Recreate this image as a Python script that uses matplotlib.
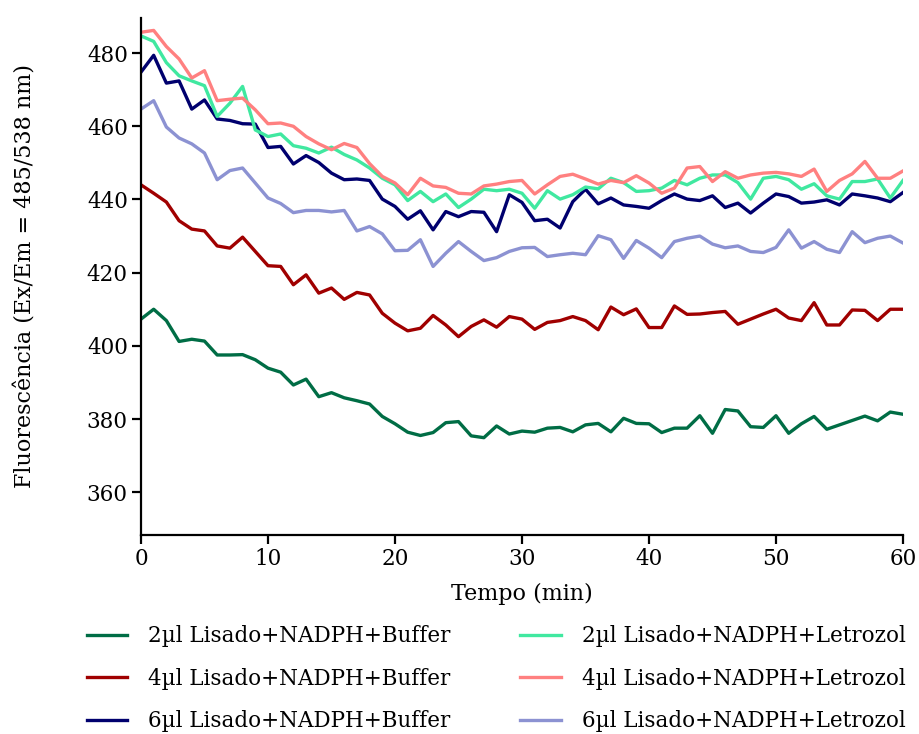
import numpy as np
import matplotlib
matplotlib.use('Agg')
import matplotlib.pyplot as plt

# time points (min)
tempo = np.arange(0, 61)

# fluorescence readings, one list per condition
buf_2ul = [407.3, 410.0, 406.9, 401.2, 401.8, 401.3, 397.5, 397.5, 397.6, 396.2,
           393.9, 392.8, 389.3, 390.9, 386.1, 387.2, 385.8, 385.0, 384.1, 380.7,
           378.7, 376.4, 375.5, 376.3, 379.0, 379.3, 375.4, 374.9, 378.1, 375.9,
           376.7, 376.4, 377.5, 377.7, 376.5, 378.4, 378.8, 376.5, 380.2, 378.8,
           378.7, 376.3, 377.5, 377.5, 380.9, 376.1, 382.6, 382.2, 377.9, 377.7,
           380.9, 376.1, 378.7, 380.7, 377.2, 378.4, 379.6, 380.8, 379.5, 381.9,
           381.3]
buf_4ul = [444.0, 441.7, 439.3, 434.2, 431.9, 431.4, 427.3, 426.7, 429.7, 425.8,
           421.9, 421.7, 416.7, 419.4, 414.4, 415.8, 412.7, 414.6, 413.9, 408.9,
           406.2, 404.1, 404.8, 408.3, 405.7, 402.5, 405.3, 407.1, 405.1, 408.0,
           407.3, 404.5, 406.4, 406.9, 408.0, 406.9, 404.4, 410.6, 408.5, 410.1,
           405.0, 405.0, 410.9, 408.6, 408.7, 409.1, 409.4, 405.9, 407.3, 408.7,
           410.0, 407.6, 406.9, 411.8, 405.7, 405.7, 409.8, 409.7, 406.9, 410.0,
           410.0]
buf_6ul = [474.8, 479.4, 471.8, 472.4, 464.7, 467.2, 462.0, 461.6, 460.7, 460.6,
           454.2, 454.5, 449.7, 452.0, 450.1, 447.2, 445.4, 445.6, 445.2, 440.1,
           438.1, 434.6, 436.9, 431.7, 436.7, 435.3, 436.7, 436.5, 431.2, 441.3,
           439.2, 434.2, 434.6, 432.2, 439.4, 442.8, 438.8, 440.4, 438.5, 438.1,
           437.6, 439.7, 441.5, 440.1, 439.7, 441.0, 437.8, 439.0, 436.3, 439.0,
           441.5, 440.8, 439.0, 439.3, 439.9, 438.5, 441.5, 441.0, 440.4, 439.4,
           441.9]
let_2ul = [484.7, 483.2, 477.4, 473.8, 472.4, 471.1, 462.7, 466.3, 470.9, 459.0,
           457.2, 457.9, 454.7, 454.0, 452.7, 454.3, 452.3, 450.8, 448.6, 445.8,
           444.0, 439.7, 442.2, 439.4, 441.5, 437.8, 440.1, 442.8, 442.4, 442.8,
           441.7, 437.6, 442.4, 440.1, 441.3, 443.4, 442.9, 445.8, 444.6, 442.2,
           442.4, 443.1, 445.2, 444.0, 445.8, 446.7, 446.7, 444.6, 440.1, 445.8,
           446.3, 445.4, 442.8, 444.3, 441.0, 440.1, 444.9, 444.9, 445.6, 440.4,
           445.2]
let_4ul = [485.7, 486.2, 481.8, 478.4, 473.2, 475.2, 467.0, 467.4, 467.7, 464.5,
           460.7, 460.9, 460.0, 457.2, 455.2, 453.6, 455.3, 454.2, 449.8, 446.3,
           444.5, 441.3, 445.8, 443.7, 443.3, 441.7, 441.5, 443.7, 444.2, 444.9,
           445.2, 441.5, 444.0, 446.3, 446.9, 445.6, 444.2, 445.2, 444.6, 446.5,
           444.5, 441.7, 443.1, 448.6, 449.0, 444.9, 447.6, 445.8, 446.7, 447.2,
           447.4, 447.0, 446.3, 448.3, 442.2, 445.2, 447.0, 450.4, 445.8, 445.8,
           447.8]
let_6ul = [464.7, 467.0, 459.8, 456.8, 455.2, 452.7, 445.4, 447.9, 448.6, 444.5,
           440.4, 438.9, 436.4, 437.0, 437.0, 436.6, 437.0, 431.4, 432.6, 430.6,
           426.0, 426.1, 429.0, 421.7, 425.3, 428.5, 425.8, 423.3, 424.1, 425.8,
           426.8, 426.9, 424.4, 424.9, 425.3, 424.9, 430.1, 429.0, 423.9, 428.8,
           426.7, 424.1, 428.5, 429.4, 430.0, 427.8, 426.8, 427.3, 425.8, 425.5,
           426.9, 431.7, 426.7, 428.5, 426.4, 425.5, 431.2, 428.2, 429.4, 430.0,
           428.1]

labels = ['2µl Lisado+NADPH+Buffer', '4µl Lisado+NADPH+Buffer', '6µl Lisado+NADPH+Buffer',
          '2µl Lisado+NADPH+Letrozol', '4µl Lisado+NADPH+Letrozol', '6µl Lisado+NADPH+Letrozol']
cores = ['#006d45', '#a00000', '#00006e', '#40e8a0', '#ff8080', '#8c92d2']
series = [buf_2ul, buf_4ul, buf_6ul, let_2ul, let_4ul, let_6ul]

plt.rcParams['font.family'] = ['DejaVu Serif']

fig = plt.figure(figsize=(9.19, 7.34), dpi=100)
ax = fig.add_axes([0.1534, 0.2711, 0.8292, 0.7044])

for y, c, lab in zip(series, cores, labels):
    ax.plot(tempo, y, color=c, lw=2.4, label=lab)

ax.set_xlim(0, 60)
ax.set_ylim(348.3, 489.6)
ax.set_xticks(np.arange(0, 61, 10))
ax.set_yticks(np.arange(360, 481, 20))

for s in ['top', 'right']:
    ax.spines[s].set_visible(False)
for s in ['left', 'bottom']:
    ax.spines[s].set_linewidth(1.6)
ax.tick_params(width=1.6, length=6.5, labelsize=15.5, colors='black', pad=3)

ax.set_xlabel('Tempo (min)', fontsize=16)
ax.set_ylabel('Fluorescência (Ex/Em = 485/538 nm)', fontsize=16)
ax.xaxis.set_label_coords(0.5, -0.092)
ax.yaxis.set_label_coords(-0.137, 0.5)

fig.legend(loc='upper left', bbox_to_anchor=(0.0853, 0.160), ncol=2, frameon=False,
           fontsize=15.5, handlelength=1.86, handletextpad=0.98, columnspacing=3.25,
           labelspacing=0.95, borderaxespad=0)

fig.savefig('out.png', dpi=100)
